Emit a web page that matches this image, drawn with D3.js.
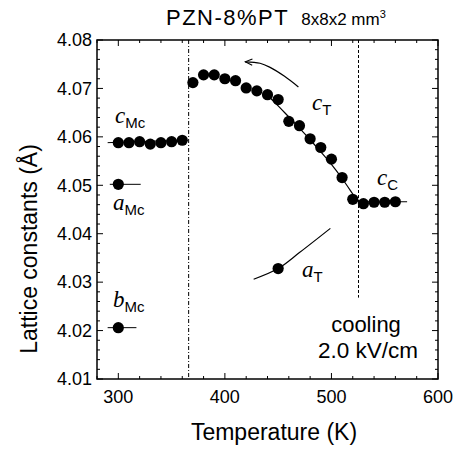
<!DOCTYPE html>
<html>
<head>
<meta charset="utf-8">
<script src="https://cdn.jsdelivr.net/npm/d3@7"></script>
<style>
  body { margin: 0; background: #fff; }
  text { font-family: "Liberation Sans", Arial, sans-serif; fill: #000; }
  .it { font-family: "Liberation Serif", "Times New Roman", serif; font-style: italic; }
</style>
</head>
<body>
<div id="chart"></div>
<script>
// c lattice constant, monoclinic Mc phase
const tempMc = [300, 310, 320, 330, 340, 350, 360]
const cMc = [4.0588, 4.0588, 4.0590, 4.0585, 4.0588, 4.0590, 4.0593]
// a and b of Mc (single points)
const tempAbMc = [300]
const aMc = [4.0502]
const bMc = [4.0206]
// c in tetragonal / cubic region
const tempTC = [370, 380, 390, 400, 410, 420, 430, 440, 450, 460, 470, 480, 490, 500, 510, 520, 530, 540, 550, 560]
const cTC = [4.0712, 4.0728, 4.0728, 4.0720, 4.0716, 4.0701, 4.0695, 4.0687, 4.0677, 4.0632, 4.0623, 4.0596,
             4.0578, 4.0554, 4.0516, 4.0471, 4.0462, 4.0465, 4.0465, 4.0466]
// a of tetragonal phase
const tempAT = [450]
const aT = [4.0328]

// guide lines
const fitCT_T = [438, 450, 460, 470, 480, 490, 500, 510, 520, 524]
const fitCT_v = [4.0690, 4.0664, 4.0641, 4.0618, 4.0594, 4.0569, 4.0543, 4.0514, 4.0482, 4.0469]
const fitAT_T = [427, 450, 470, 499]
const fitAT_v = [4.0306, 4.0328, 4.0361, 4.0411]
const arrowT = [469, 456, 442, 433, 419]
const arrowV = [4.0703, 4.0725, 4.0744, 4.0752, 4.0755]
const phaseBounds = [366, 525.4]

const xTicks = [300, 400, 500, 600]
const yTicks = [4.01, 4.02, 4.03, 4.04, 4.05, 4.06, 4.07, 4.08]

const width = 457, height = 449
const margin = { left: 97, right: 19, top: 40, bottom: 70 }

const svg = d3.select('#chart').append('svg')
    .attr('width', width)
    .attr('height', height)

const x = d3.scaleLinear().domain([280, 600]).range([margin.left, width - margin.right])
const y = d3.scaleLinear().domain([4.01, 4.08]).range([height - margin.bottom, margin.top])

const x0 = x.range()[0], x1 = x.range()[1]
const y0 = y.range()[0], y1 = y.range()[1]

svg.append('defs').append('marker')
    .attr('id', 'head')
    .attr('viewBox', '0 0 10 10')
    .attr('refX', 9).attr('refY', 5)
    .attr('markerWidth', 9).attr('markerHeight', 9)
    .attr('markerUnits', 'userSpaceOnUse')
    .attr('orient', 'auto')
    .append('path')
    .attr('d', 'M1,1.5 L9,5 L1,8.5')
    .attr('fill', 'none').attr('stroke', '#000').attr('stroke-width', 1.2)

// ticks on all four sides, pointing inward
const xMinor = d3.range(280, 601, 20)
const yMinor = d3.range(4.01, 4.0801, 0.002)
const tickG = svg.append('g').attr('stroke', '#000').attr('stroke-width', 1)

xMinor.forEach(t => {
    let len = xTicks.includes(t) ? 6 : 3
    tickG.append('line').attr('x1', x(t)).attr('x2', x(t)).attr('y1', y0).attr('y2', y0 - len)
    tickG.append('line').attr('x1', x(t)).attr('x2', x(t)).attr('y1', y1).attr('y2', y1 + len)
})
yMinor.forEach((v, i) => {
    let len = i % 5 == 0 ? 6 : 3
    tickG.append('line').attr('y1', y(v)).attr('y2', y(v)).attr('x1', x0).attr('x2', x0 + len)
    tickG.append('line').attr('y1', y(v)).attr('y2', y(v)).attr('x1', x1).attr('x2', x1 - len)
})

svg.append('rect')
    .attr('x', x0).attr('y', y1)
    .attr('width', x1 - x0).attr('height', y0 - y1)
    .attr('fill', 'none').attr('stroke', '#000').attr('stroke-width', 1.5)

svg.selectAll('.xlab').data(xTicks).enter().append('text')
    .attr('x', d => x(d)).attr('y', y0 + 24)
    .attr('text-anchor', 'middle').attr('font-size', 18)
    .text(d => d)

svg.selectAll('.ylab').data(yTicks).enter().append('text')
    .attr('x', x0 - 5).attr('y', d => y(d)).attr('dy', '0.35em')
    .attr('text-anchor', 'end').attr('font-size', 18)
    .text(d => d3.format('.2f')(d))

svg.append('text')
    .attr('x', 274).attr('y', 440)
    .attr('text-anchor', 'middle').attr('font-size', 23)
    .text('Temperature (K)')

svg.append('text')
    .attr('transform', 'translate(37,249) rotate(-90)')
    .attr('text-anchor', 'middle').attr('font-size', 23)
    .text('Lattice constants (Å)')

let title = svg.append('text').attr('x', 166).attr('y', 25)
title.append('tspan').attr('font-size', 22).attr('letter-spacing', 1.5).text('PZN-8%PT')
title.append('tspan').attr('font-size', 17).attr('dx', 12).text('8x8x2 mm')
title.append('tspan').attr('font-size', 11).attr('dy', -7).text('3')

// phase boundaries
svg.append('line')
    .attr('x1', x(phaseBounds[0])).attr('x2', x(phaseBounds[0]))
    .attr('y1', y1).attr('y2', y0)
    .attr('stroke', '#000').attr('stroke-width', 1).attr('stroke-dasharray', '4,2,1,2')
svg.append('line')
    .attr('x1', x(phaseBounds[1])).attr('x2', x(phaseBounds[1]))
    .attr('y1', y1).attr('y2', y(4.0268))
    .attr('stroke', '#000').attr('stroke-width', 1).attr('stroke-dasharray', '3,2')

const line = d3.line().x(d => x(d[0])).y(d => y(d[1]))

// short guide stubs through the flat segments
svg.append('path').attr('d', line([[290, cMc[0]], [360, cMc[6]]])).attr('stroke', '#000').attr('fill', 'none')
svg.append('path').attr('d', line([[520, 4.0466], [571, 4.0466]])).attr('stroke', '#000').attr('fill', 'none')
svg.append('path').attr('d', line([[292, aMc[0]], [321, aMc[0]]])).attr('stroke', '#000').attr('fill', 'none')
svg.append('path').attr('d', line([[290, bMc[0]], [317, bMc[0]]])).attr('stroke', '#000').attr('fill', 'none')

const curve = d3.line().x(d => x(d[0])).y(d => y(d[1])).curve(d3.curveCatmullRom)
svg.append('path').attr('d', curve(d3.zip(fitCT_T, fitCT_v)))
    .attr('stroke', '#000').attr('stroke-width', 1.2).attr('fill', 'none')
svg.append('path').attr('d', curve(d3.zip(fitAT_T, fitAT_v)))
    .attr('stroke', '#000').attr('stroke-width', 1.2).attr('fill', 'none')
svg.append('path').attr('d', curve(d3.zip(arrowT, arrowV)))
    .attr('stroke', '#000').attr('stroke-width', 1.2).attr('fill', 'none')
    .attr('marker-end', 'url(#head)')

const points = d3.zip(tempMc, cMc)
    .concat(d3.zip(tempAbMc, aMc), d3.zip(tempAbMc, bMc), d3.zip(tempTC, cTC), d3.zip(tempAT, aT))

svg.selectAll('.pt').data(points).enter().append('circle')
    .attr('cx', d => x(d[0])).attr('cy', d => y(d[1]))
    .attr('r', 5.6).attr('fill', '#000')

// phase labels: italic serif letter + upright sans subscript
const labels = [
    { s: 'c', sub: 'Mc', x: 115, y: 123 },
    { s: 'a', sub: 'Mc', x: 113, y: 210 },
    { s: 'b', sub: 'Mc', x: 113, y: 307 },
    { s: 'c', sub: 'T', x: 312, y: 110 },
    { s: 'c', sub: 'C', x: 377, y: 185 },
    { s: 'a', sub: 'T', x: 302, y: 277 }
]
labels.forEach(l => {
    let t = svg.append('text').attr('x', l.x).attr('y', l.y)
    t.append('tspan').attr('class', 'it').attr('font-size', 23).text(l.s)
    t.append('tspan').attr('font-size', 15).attr('dy', 5).text(l.sub)
})

svg.append('text').attr('x', 366).attr('y', 332)
    .attr('text-anchor', 'middle').attr('font-size', 22).text('cooling')
svg.append('text').attr('x', 368).attr('y', 358)
    .attr('text-anchor', 'middle').attr('font-size', 22.5).text('2.0 kV/cm')
</script>
</body>
</html>
